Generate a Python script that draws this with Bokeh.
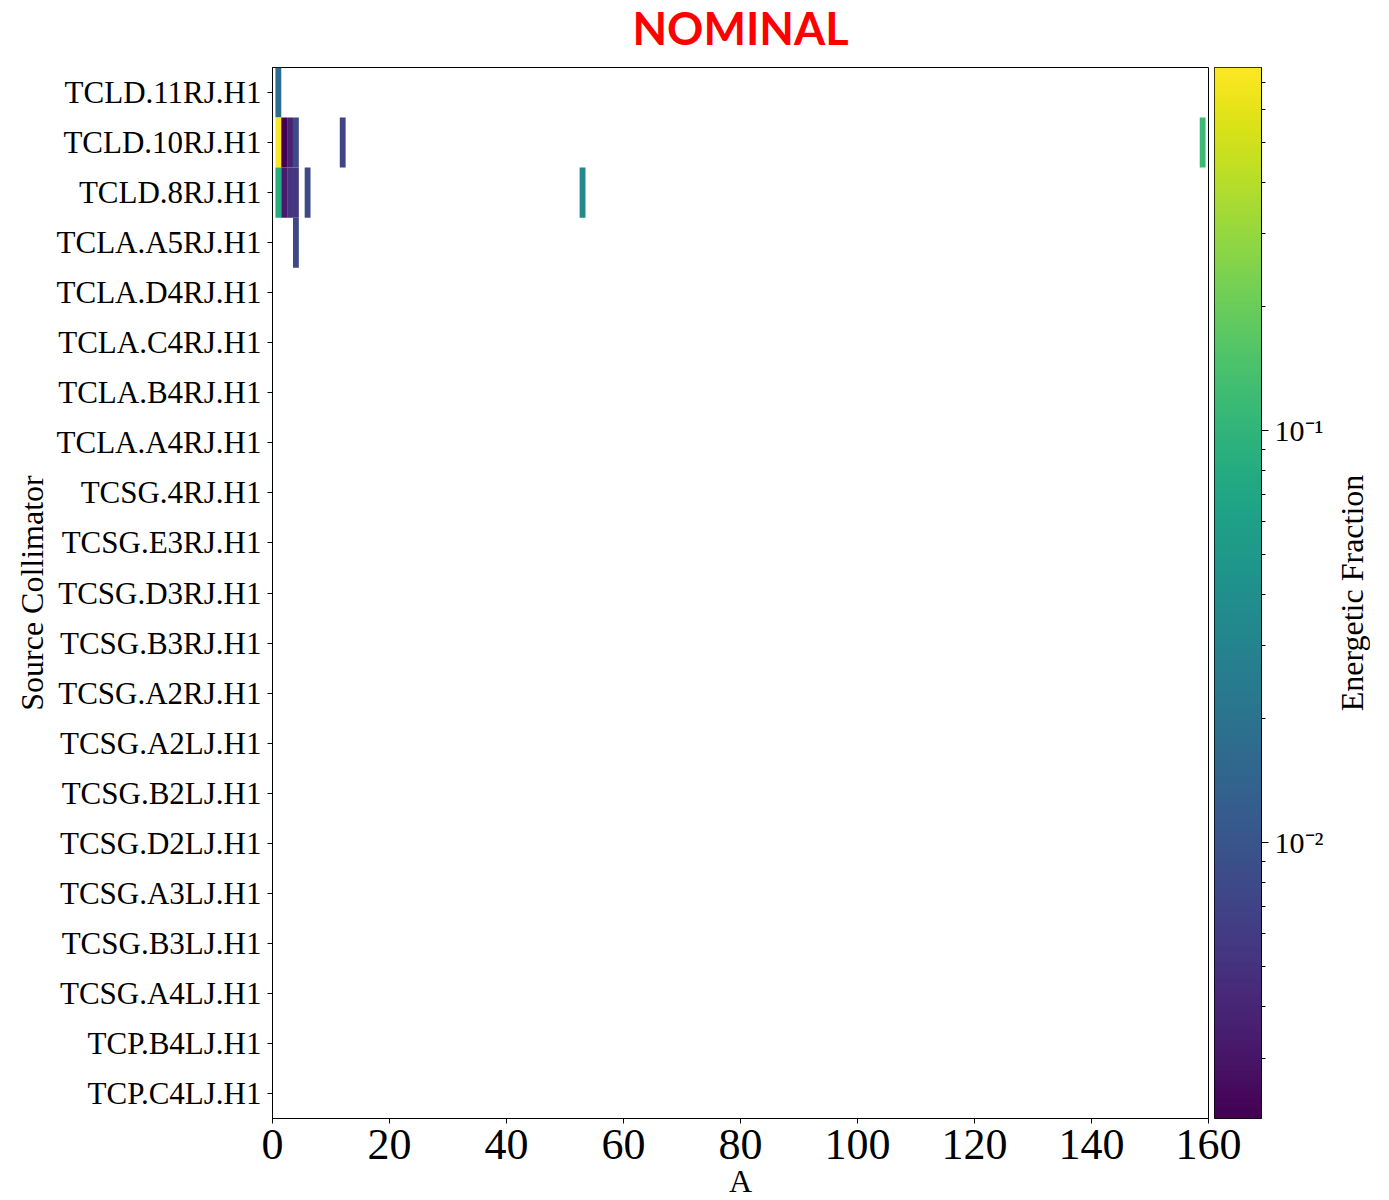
import numpy as np
from bokeh.plotting import figure
from bokeh.models import (FactorRange, Range1d, LogColorMapper, FixedTicker,
                          ColumnDataSource)
from bokeh.layouts import row, column
from bokeh.palettes import Viridis256
from bokeh.transform import transform
from bokeh.embed import file_html
from bokeh.resources import INLINE

# ---- data ----
collimators = [
    "TCLD.11RJ.H1", "TCLD.10RJ.H1", "TCLD.8RJ.H1", "TCLA.A5RJ.H1",
    "TCLA.D4RJ.H1", "TCLA.C4RJ.H1", "TCLA.B4RJ.H1", "TCLA.A4RJ.H1",
    "TCSG.4RJ.H1", "TCSG.E3RJ.H1", "TCSG.D3RJ.H1", "TCSG.B3RJ.H1",
    "TCSG.A2RJ.H1", "TCSG.A2LJ.H1", "TCSG.B2LJ.H1", "TCSG.D2LJ.H1",
    "TCSG.A3LJ.H1", "TCSG.B3LJ.H1", "TCSG.A4LJ.H1", "TCP.B4LJ.H1",
    "TCP.C4LJ.H1",
]
cell_source = [
    "TCLD.11RJ.H1",
    "TCLD.10RJ.H1", "TCLD.10RJ.H1", "TCLD.10RJ.H1", "TCLD.10RJ.H1",
    "TCLD.10RJ.H1", "TCLD.10RJ.H1",
    "TCLD.8RJ.H1", "TCLD.8RJ.H1", "TCLD.8RJ.H1", "TCLD.8RJ.H1",
    "TCLD.8RJ.H1", "TCLD.8RJ.H1",
    "TCLA.A5RJ.H1",
]
cell_A = [1, 1, 2, 3, 4, 12, 159, 1, 2, 3, 4, 6, 53, 4]
cell_fraction = [0.0177, 0.76, 0.00214, 0.0038, 0.0080, 0.0072, 0.118,
                 0.082, 0.0033, 0.0052, 0.0055, 0.0078, 0.034, 0.0075]
x_ticks = [0, 20, 40, 60, 80, 100, 120, 140, 160]
cbar_major = [0.01, 0.1]
cbar_labels = {0.01: "10\u207b\u00b2", 0.1: "10\u207b\u00b9"}

low = min(cell_fraction)
high = max(cell_fraction)
mapper = LogColorMapper(palette=Viridis256, low=low, high=high)

SERIF = "Liberation Serif"
TITLE_H = 60
TOP = 67 - TITLE_H
BOTTOM = 64
FRAME_H = 1051
MAIN_W = 272 + 936 + 37
XLABEL_H = 36
ROW_BOTTOM = 67 + FRAME_H + BOTTOM


def bare(fig):
    fig.grid.visible = False
    fig.outline_line_color = None
    fig.border_fill_alpha = 0
    fig.background_fill_alpha = 0


# ---- title strip ----
tfig = figure(width=MAIN_W, height=TITLE_H, output_backend="svg",
              toolbar_location=None, x_axis_location=None,
              y_axis_location=None, min_border_left=272, min_border_right=37,
              min_border_top=0, min_border_bottom=0, title="NOMINAL")
bare(tfig)
tfig.title.text_font = "Lato"
tfig.title.text_font_style = "bold"
tfig.title.text_color = "red"
tfig.title.text_font_size = "45px"
tfig.title.align = "center"
tfig.title.vertical_align = "top"
tfig.title.standoff = 0

# ---- main heat map ----
src = ColumnDataSource(dict(src=cell_source, A=cell_A, frac=cell_fraction))

p = figure(frame_width=936, frame_height=FRAME_H, x_range=Range1d(0, 160),
           y_range=FactorRange(factors=collimators[::-1]),
           output_backend="svg", toolbar_location=None,
           min_border_left=272, min_border_right=37,
           min_border_top=TOP, min_border_bottom=BOTTOM)

p.rect(x="A", y="src", width=1, height=1, source=src,
       fill_color=transform("frac", mapper), line_color=None)

p.xgrid.visible = False
p.ygrid.visible = False
p.outline_line_color = "black"
p.outline_line_alpha = 1
p.outline_line_width = 1

for ax in (p.xaxis[0], p.yaxis[0]):
    ax.axis_line_color = "black"
    ax.major_tick_line_color = "black"
    ax.major_tick_in = 0
    ax.major_tick_out = 5
    ax.minor_tick_line_color = None
    ax.major_label_text_font = SERIF
    ax.major_label_text_color = "black"
    ax.axis_label_text_font = SERIF
    ax.axis_label_text_font_style = "normal"
    ax.axis_label_text_font_size = "32px"
    ax.axis_label_text_color = "black"

p.xaxis.ticker = FixedTicker(ticks=x_ticks)
p.xaxis.major_label_text_font_size = "44px"
p.xaxis.major_label_standoff = 6

p.yaxis.major_label_text_font_size = "31px"
p.yaxis.major_label_standoff = 6
p.yaxis.axis_label = "Source Collimator"
p.yaxis.axis_label_standoff = 4

# ---- colour bar (own figure, overlapping the main figure's right margin) ----
cb = figure(frame_width=47, frame_height=FRAME_H, x_range=Range1d(0, 1),
            y_range=Range1d(low, high), y_axis_type="log",
            y_axis_location="right", x_axis_location=None,
            output_backend="svg", toolbar_location=None,
            min_border_left=3, min_border_right=70,
            min_border_top=TOP, min_border_bottom=BOTTOM)
cb.margin = (0, 0, 0, -34)
grad = (10 ** np.linspace(np.log10(low), np.log10(high), 512)).reshape(512, 1)
cb.image(image=[grad], x=0, y=low, dw=1, dh=high - low, color_mapper=mapper)
cb.grid.visible = False
cb.border_fill_alpha = 0
cb.outline_line_color = "black"
cb.outline_line_alpha = 1

minor = [m * 10.0 ** e for e in (-3, -2, -1) for m in range(2, 10)
         if low <= m * 10.0 ** e <= high]
ya = cb.yaxis[0]
ya.ticker = FixedTicker(ticks=cbar_major, minor_ticks=minor)
ya.major_label_overrides = cbar_labels
ya.axis_line_color = "black"
ya.major_tick_line_color = "black"
ya.minor_tick_line_color = "black"
ya.major_tick_in = 0
ya.major_tick_out = 7
ya.minor_tick_in = 0
ya.minor_tick_out = 4
ya.major_label_text_font = SERIF
ya.major_label_text_font_size = "30px"
ya.major_label_text_color = "black"
ya.major_label_standoff = 6

# ---- colour bar label (left title of a thin strip, reads bottom-to-top) ----
lab = figure(frame_width=1, frame_height=FRAME_H, output_backend="svg",
             toolbar_location=None, x_axis_location=None,
             y_axis_location=None, min_border_left=37, min_border_right=0,
             min_border_top=TOP, min_border_bottom=BOTTOM,
             title="Energetic Fraction", title_location="left")
bare(lab)
lab.title.text_font = SERIF
lab.title.text_font_style = "normal"
lab.title.text_font_size = "32px"
lab.title.text_color = "black"
lab.title.align = "center"
lab.title.standoff = 0

# ---- x-axis title strip, tucked under the tick labels ----
afig = figure(width=MAIN_W, height=XLABEL_H, output_backend="svg",
              toolbar_location=None, x_axis_location=None,
              y_axis_location=None, min_border_left=272, min_border_right=37,
              min_border_top=0, min_border_bottom=0, title="A")
bare(afig)
afig.title.text_font = SERIF
afig.title.text_font_style = "normal"
afig.title.text_font_size = "32px"
afig.title.text_color = "black"
afig.title.align = "center"
afig.title.vertical_align = "top"
afig.title.standoff = 0
afig.margin = (1200 - XLABEL_H - ROW_BOTTOM, 0, 0, 0)

layout = column(tfig, row(p, cb, lab), afig)
open("out.html", "w").write(file_html(layout, INLINE))
